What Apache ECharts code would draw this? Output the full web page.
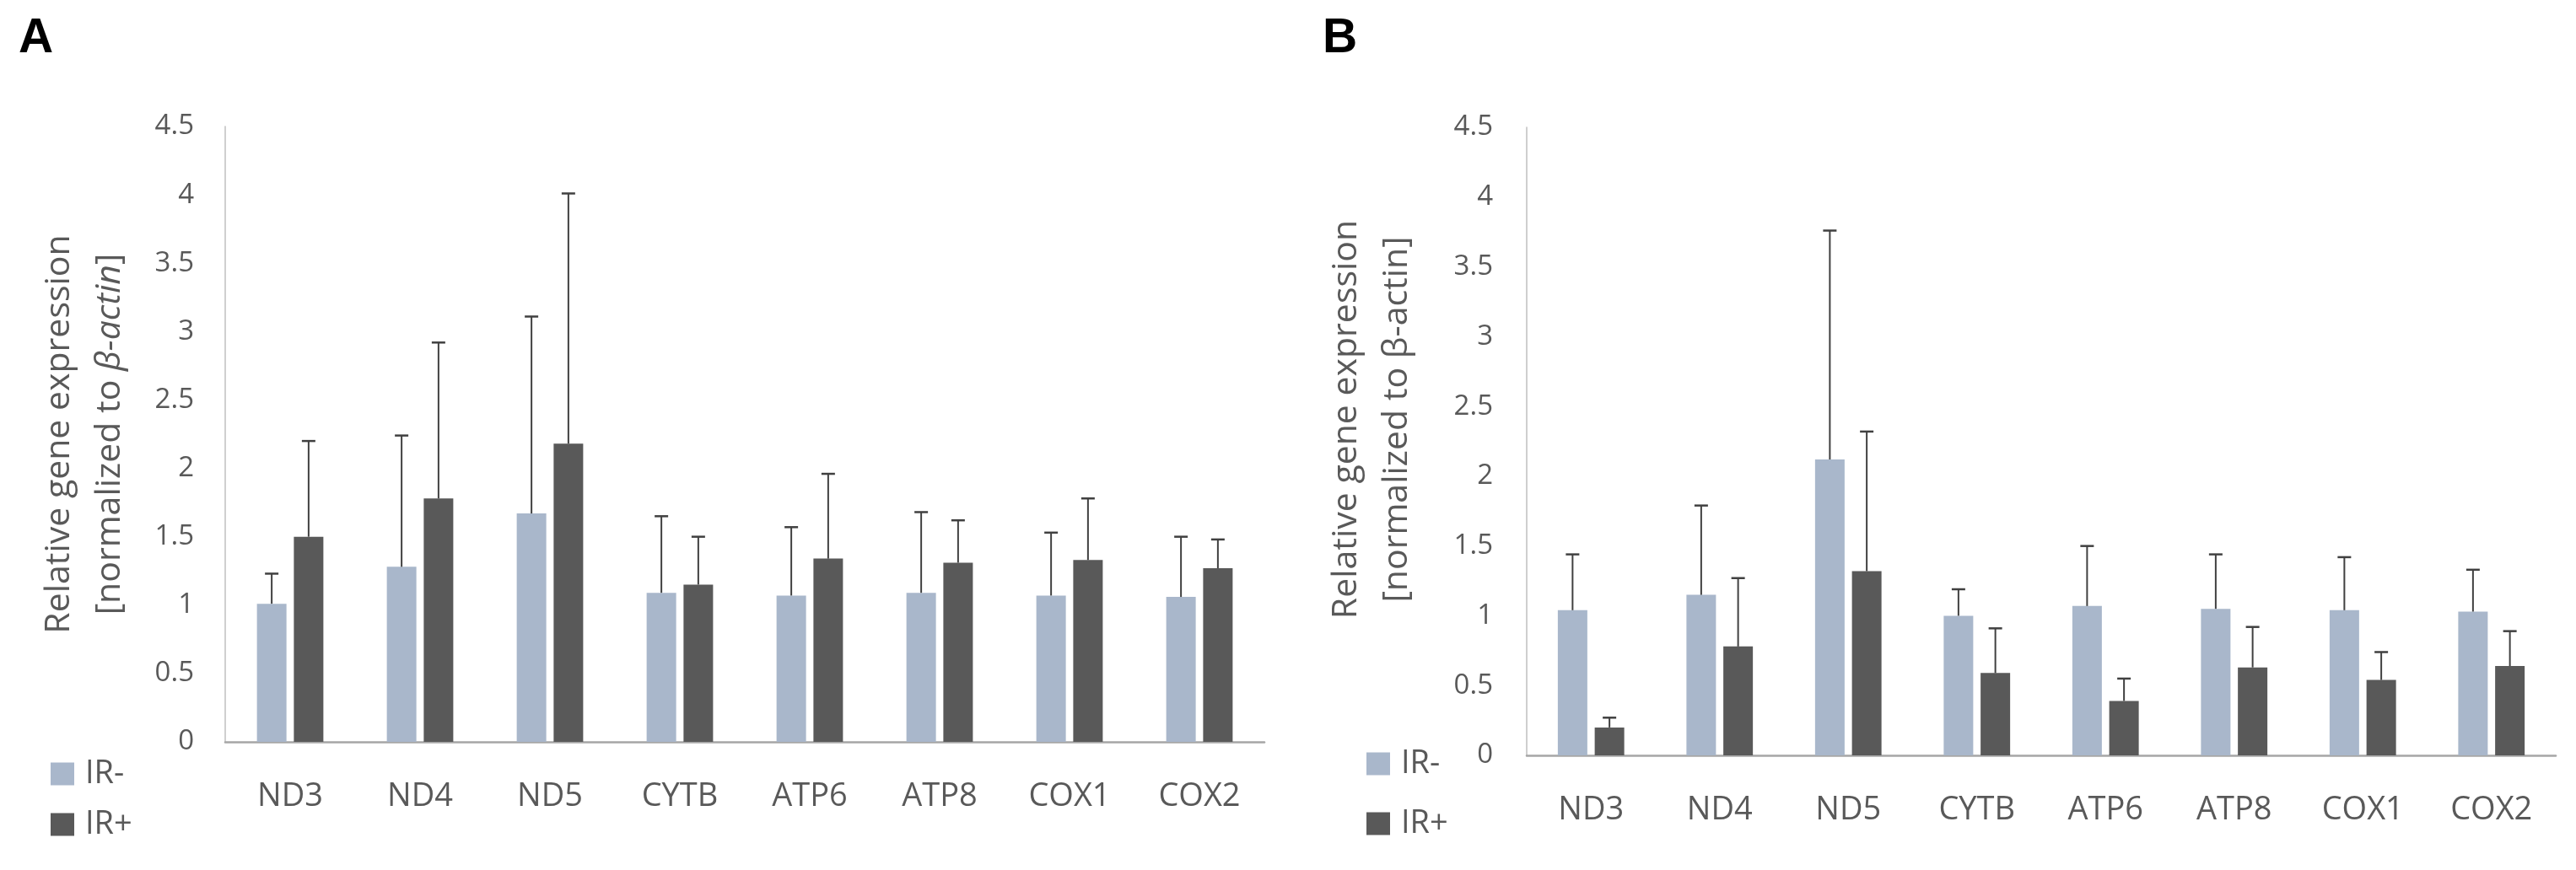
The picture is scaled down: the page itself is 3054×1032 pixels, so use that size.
<!DOCTYPE html>
<html><head><meta charset="utf-8">
<script src="https://cdn.jsdelivr.net/npm/echarts@6/dist/echarts.min.js"></script>
<style>html,body{margin:0;padding:0;background:#fff}#c{width:3054px;height:1032px}</style>
</head><body><div id="c"></div>
<script>
// ---- data ----
const genes = ['ND3', 'ND4', 'ND5', 'CYTB', 'ATP6', 'ATP8', 'COX1', 'COX2'];
const yTicks = { min: 0, max: 4.5, step: 0.5 };
// Panel A
const irMinusA    = [1.01, 1.28, 1.67, 1.09, 1.07, 1.09, 1.07, 1.06];
const irMinusA_sd = [0.22, 0.96, 1.44, 0.56, 0.50, 0.59, 0.46, 0.44];
const irPlusA     = [1.50, 1.78, 2.18, 1.15, 1.34, 1.31, 1.33, 1.27];
const irPlusA_sd  = [0.70, 1.14, 1.83, 0.35, 0.62, 0.31, 0.45, 0.21];
// Panel B
const irMinusB    = [1.04, 1.15, 2.12, 1.00, 1.07, 1.05, 1.04, 1.03];
const irMinusB_sd = [0.40, 0.64, 1.64, 0.19, 0.43, 0.39, 0.38, 0.30];
const irPlusB     = [0.20, 0.78, 1.32, 0.59, 0.39, 0.63, 0.54, 0.64];
const irPlusB_sd  = [0.07, 0.49, 1.00, 0.32, 0.16, 0.29, 0.20, 0.25];

// ---- style ----
const FONT = "'Open Sans', sans-serif";
const C_MINUS = '#A9B7CB', C_PLUS = '#595959', C_ERR = '#404040', C_TXT = '#595959';
const BAR_W = 35, BAR_GAP = 0.25;

const chart = echarts.init(document.getElementById('c'));

function errSeries(id, xi, means, sds, side) {
  return {
    type: 'custom', name: id, xAxisIndex: xi, yAxisIndex: xi, z: 5, silent: true,
    data: means.map((m, i) => [i, m, m + sds[i]]),
    encode: { x: 0, y: 2 },
    renderItem: function (params, api) {
      const off = side * (BAR_W * (1 + BAR_GAP)) / 2;
      const b = api.coord([api.value(0), api.value(1)]);
      const t = api.coord([api.value(0), api.value(2)]);
      const x = b[0] + off;
      return { type: 'group', children: [
        { type: 'line', shape: { x1: x, y1: b[1], x2: x, y2: t[1] }, style: { stroke: C_ERR, lineWidth: 2 } },
        { type: 'line', shape: { x1: x - 8, y1: t[1], x2: x + 8, y2: t[1] }, style: { stroke: C_ERR, lineWidth: 2.5 } }
      ] };
    }
  };
}
function barSeries(name, xi, data, color) {
  return { type: 'bar', name: name, xAxisIndex: xi, yAxisIndex: xi, data: data,
    barWidth: BAR_W, barGap: (BAR_GAP * 100) + '%', itemStyle: { color: color }, z: 2 };
}
function xAx(gi) {
  return { type: 'category', gridIndex: gi, data: genes,
    axisLine: { lineStyle: { color: '#A6A6A6', width: 2.5 } }, axisTick: { show: false },
    axisLabel: { fontFamily: FONT, fontSize: 38, lineHeight: 40, color: C_TXT, margin: 45 } };
}
function yAx(gi, italic, gap, pad) {
  const it = italic ? '{it|β-actin}' : 'β-actin';
  return { type: 'value', gridIndex: gi, min: yTicks.min, max: yTicks.max, interval: yTicks.step,
    axisLine: { show: true, lineStyle: { color: '#BFBFBF', width: 1.5 } },
    axisTick: { show: false }, splitLine: { show: false },
    axisLabel: { fontFamily: FONT, fontSize: 33, color: C_TXT, margin: gi === 0 ? 37 : 40 },
    name: 'Relative gene expression\n[normalized to ' + it + ']',
    nameLocation: 'middle', nameGap: gap,
    nameTextStyle: { fontFamily: FONT, fontSize: 41, lineHeight: 60, color: C_TXT, padding: pad,
      rich: { it: { fontFamily: FONT, fontSize: 41, lineHeight: 60, color: C_TXT, fontStyle: 'italic' } } } };
}
function legend(left, top, gap) {
  return { data: ['IR-', 'IR+'], orient: 'vertical', left: left, top: top, itemGap: gap,
    itemWidth: 28, itemHeight: 27, selectedMode: false, icon: 'rect',
    textStyle: { fontFamily: FONT, fontSize: 38, lineHeight: 36, color: C_TXT, padding: [0, 0, 0, 8] } };
}

chart.setOption({
  animation: false,
  backgroundColor: '#fff',
  grid: [
    { left: 267, top: 150, width: 1232, height: 730 },
    { left: 1810, top: 151, width: 1220, height: 745 }
  ],
  xAxis: [xAx(0), xAx(1)],
  yAxis: [yAx(0, true, 107, [0, 0, 0, 0]), yAx(1, false, 124, [0, 0, 0, 52])],
  legend: [legend(55, 894, 22), legend(1615, 882, 33)],
  graphic: [
    { type: 'text', left: 22, top: 18, style: { text: 'A', font: 'bold 57px "Liberation Sans", Arial, sans-serif', fill: '#000' } },
    { type: 'text', left: 1568, top: 18, style: { text: 'B', font: 'bold 57px "Liberation Sans", Arial, sans-serif', fill: '#000' } }
  ],
  series: [
    barSeries('IR-', 0, irMinusA, C_MINUS),
    barSeries('IR+', 0, irPlusA, C_PLUS),
    barSeries('IR-', 1, irMinusB, C_MINUS),
    barSeries('IR+', 1, irPlusB, C_PLUS),
    errSeries('errAm', 0, irMinusA, irMinusA_sd, -1),
    errSeries('errAp', 0, irPlusA, irPlusA_sd, 1),
    errSeries('errBm', 1, irMinusB, irMinusB_sd, -1),
    errSeries('errBp', 1, irPlusB, irPlusB_sd, 1)
  ]
});
</script></body></html>
